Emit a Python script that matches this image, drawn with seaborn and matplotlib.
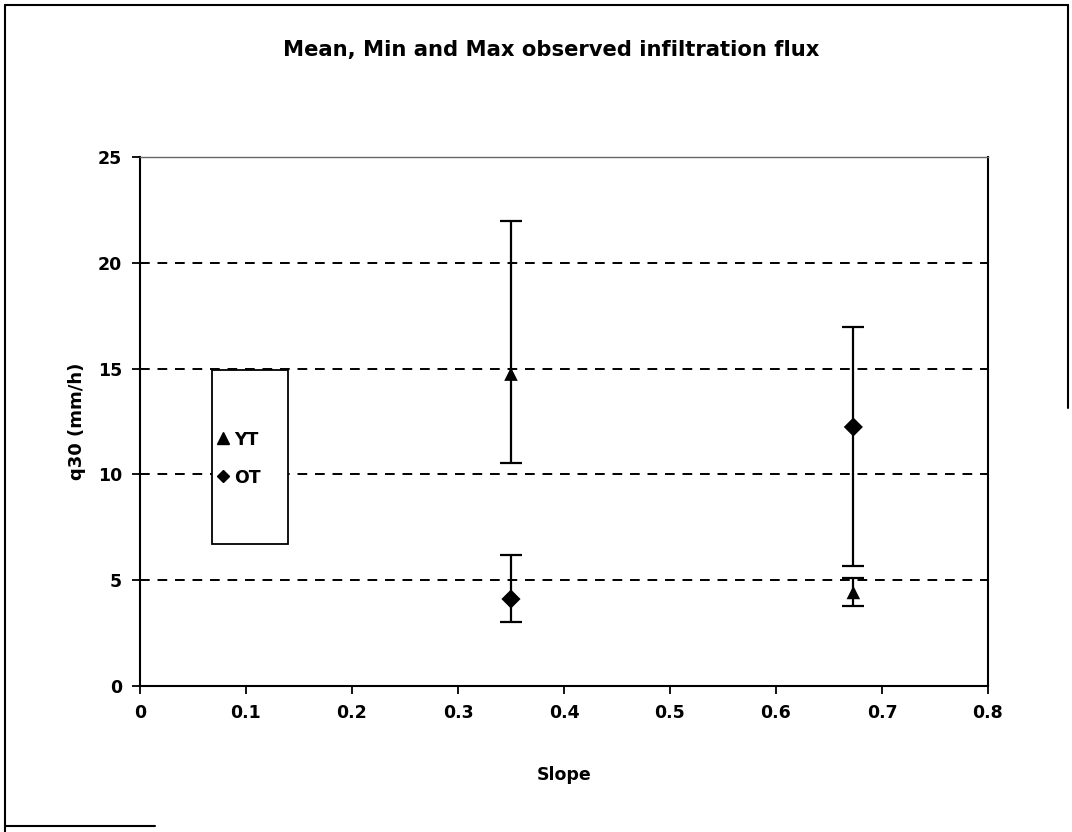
import matplotlib
matplotlib.use("Agg")
import matplotlib.pyplot as plt
from matplotlib.lines import Line2D
from matplotlib.patches import Rectangle
import numpy as np
import pandas as pd
import seaborn as sns

# Observed infiltration flux q30 (mm/h) per treatment and slope
treatments = ["YT", "YT", "OT", "OT"]
slopes = [0.35, 0.673, 0.35, 0.673]
q30_mean = [14.74, 4.42, 4.11, 12.24]
q30_min = [10.54, 3.80, 3.02, 5.67]
q30_max = [21.97, 5.10, 6.19, 16.97]

x_ticks = [0, 0.1, 0.2, 0.3, 0.4, 0.5, 0.6, 0.7, 0.8]
x_tick_labels = ["0", "0.1", "0.2", "0.3", "0.4", "0.5", "0.6", "0.7", "0.8"]
y_ticks = [0, 5, 10, 15, 20, 25]

df = pd.DataFrame({"Slope": slopes, "q30": q30_mean, "lo": q30_min,
                   "hi": q30_max, "Treatment": treatments})

sns.set_theme(style="white")
plt.rcParams["font.family"] = ["DejaVu Sans"]
plt.rcParams["font.weight"] = "bold"
plt.rcParams["text.color"] = "black"

fig = plt.figure(figsize=(10.72, 8.32), dpi=100)
ax = fig.add_axes([0.1306, 0.1755, 0.7910, 0.6358])

# dashed horizontal gridlines
for yv in y_ticks[1:-1]:
    ax.axhline(yv, color="black", lw=1.4, ls=(0, (5, 4)), zorder=1)

# min/max ranges
ax.errorbar(df["Slope"], df["q30"],
            yerr=[df["q30"] - df["lo"], df["hi"] - df["q30"]],
            fmt="none", ecolor="black", elinewidth=1.6, capsize=8,
            capthick=1.6, zorder=3)

# mean values
sns.scatterplot(data=df, x="Slope", y="q30", style="Treatment",
                markers={"YT": "^", "OT": "D"}, color="black",
                s=95, edgecolor="black", linewidth=0, legend=False,
                ax=ax, zorder=4)

ax.set_xlim(0, 0.8)
ax.set_ylim(0, 25)
ax.set_xticks(x_ticks)
ax.set_xticklabels(x_tick_labels)
ax.set_yticks(y_ticks)
ax.tick_params(axis="both", direction="out", length=6, width=1.3,
               color="black", labelsize=12.5, labelcolor="black", pad=7,
               bottom=True, left=True)
for lab in ax.get_xticklabels() + ax.get_yticklabels():
    lab.set_fontweight("bold")

for side in ["left", "bottom", "right"]:
    ax.spines[side].set_color("black")
    ax.spines[side].set_linewidth(1.5)
ax.spines["top"].set_color("#666666")
ax.spines["top"].set_linewidth(1.0)

ax.set_xlabel("Slope", fontsize=12.5, fontweight="bold", color="black")
ax.set_ylabel("q30 (mm/h)", fontsize=13, fontweight="bold", color="black")
ax.xaxis.set_label_coords(0.5, -0.152)
ax.yaxis.set_label_coords(-0.064, 0.5)

# legend box
ax.add_patch(Rectangle((0.068, 6.71), 0.072, 8.22, facecolor="white",
                       edgecolor="black", lw=1.3, zorder=5))
handles = [Line2D([], [], marker="^", color="black", ls="none", markersize=9),
           Line2D([], [], marker="D", color="black", ls="none", markersize=6.5)]
leg = ax.legend(handles, ["YT", "OT"], loc="center left",
                bbox_to_anchor=(0.082, 0.43), frameon=False,
                handlelength=0.6, handletextpad=0.3, labelspacing=1.15,
                borderpad=0, labelcolor="black",
                prop={"size": 12.5, "weight": "bold"})
leg.set_zorder(6)

fig.text(0.514, 0.94, "Mean, Min and Max observed infiltration flux",
         ha="center", va="center", fontsize=15.2, fontweight="bold",
         color="black")

# outer chart frame
frame_kw = dict(color="black", lw=1.5, transform=fig.transFigure)
fig.add_artist(Line2D([0.005, 0.005], [0.0, 0.994], **frame_kw))
fig.add_artist(Line2D([0.005, 0.996], [0.994, 0.994], **frame_kw))
fig.add_artist(Line2D([0.996, 0.996], [0.994, 0.51], **frame_kw))
fig.add_artist(Line2D([0.005, 0.145], [0.007, 0.007], **frame_kw))

fig.savefig("out.png", dpi=100, facecolor="white")
